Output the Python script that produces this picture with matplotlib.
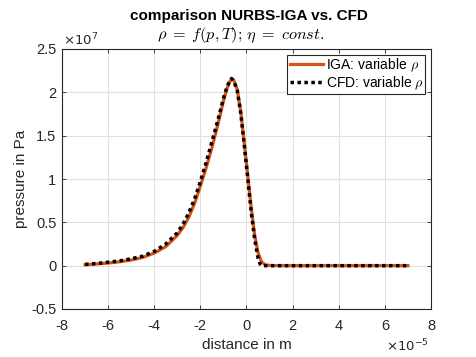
import matplotlib
matplotlib.use("Agg")
import matplotlib.pyplot as plt
import numpy as np

plt.rcParams['font.family'] = ['Liberation Sans', 'DejaVu Sans']
plt.rcParams['mathtext.fontset'] = 'cm'

# data (x in 1e-5 m, y in 1e7 Pa)
iga_x = [-7, -6.5, -6, -5.5, -5, -4.5, -4, -3.5, -3, -2.75, -2.5, -2.25, -2, -1.75, -1.5,
         -1.25, -1, -0.85, -0.75, -0.65, -0.55, -0.4, -0.25, -0.1, 0.05, 0.2, 0.35, 0.5,
         0.65, 0.8, 1.0, 1.5, 3, 5, 7]
iga_y = [0.01, 0.02, 0.03, 0.045, 0.065, 0.095, 0.145, 0.22, 0.35, 0.44, 0.56, 0.72, 0.92,
         1.13, 1.36, 1.62, 1.9, 2.04, 2.11, 2.155, 2.14, 2.03, 1.78, 1.42, 1.05, 0.68, 0.36,
         0.15, 0.045, 0.012, 0.002, 0, 0, 0, 0]
cfd_x = [-7, -6.5, -6, -5.5, -5, -4.5, -4, -3.5, -3, -2.75, -2.5, -2.25, -2, -1.75, -1.5,
         -1.25, -1, -0.85, -0.75, -0.65, -0.55, -0.4, -0.25, -0.1, 0.05, 0.2, 0.35, 0.5,
         0.6, 0.65, 0.8, 1.0, 3, 5, 7]
cfd_y = [0.015, 0.025, 0.04, 0.055, 0.08, 0.11, 0.165, 0.25, 0.38, 0.48, 0.61, 0.77, 0.97,
         1.19, 1.43, 1.67, 1.93, 2.06, 2.12, 2.16, 2.13, 2.02, 1.76, 1.40, 1.02, 0.63, 0.31,
         0.09, 0.015, 0, 0, 0, 0, 0, 0]

x_ticks = [-8, -6, -4, -2, 0, 2, 4, 6, 8]
y_ticks = [-0.5, 0, 0.5, 1, 1.5, 2, 2.5]
x_scale = 1e-5
y_scale = 1e7

fig = plt.figure(figsize=(4.76, 3.57), dpi=100)
ax = fig.add_axes([62/476, 1-309/357, (431-62)/476, (309-49)/357])

ax.plot(np.array(iga_x)*x_scale, np.array(iga_y)*y_scale, color='#D95319', lw=2.3,
        label=r'IGA: variable $\rho$')
ax.plot(np.array(cfd_x)*x_scale, np.array(cfd_y)*y_scale, color='black', lw=2.5,
        linestyle=(0, (1, 1)), label=r'CFD: variable $\rho$')

ax.set_xlim(-8*x_scale, 8*x_scale)
ax.set_ylim(-0.5*y_scale, 2.5*y_scale)
ax.set_xticks([t*x_scale for t in x_ticks])
ax.set_xticklabels([f"{t:g}" for t in x_ticks])
ax.set_yticks([t*y_scale for t in y_ticks])
ax.set_yticklabels([f"{t:g}" for t in y_ticks])
ax.tick_params(direction='in', length=3, width=0.6, top=True, right=True,
               labelsize=10.5, colors='#262626', pad=4)
ax.tick_params(axis='x', pad=7)
ax.grid(True, color='#e0e0e0', lw=0.8)
ax.set_axisbelow(True)
for s in ax.spines.values():
    s.set_color('#262626')
    s.set_linewidth(0.8)

ax.set_xlabel('distance in m', fontsize=11, color='#262626', labelpad=4)
ax.set_ylabel('pressure in Pa', fontsize=11, color='#262626', labelpad=2)

fig.text(249/476, 1-16/357, 'comparison NURBS-IGA vs. CFD', ha='center', va='center',
         fontsize=11, fontweight='bold', color='black')
fig.text(241/476, 1-35/357, r'$\rho\;=\;f(p,T);\,\eta\;=\;const.$', ha='center', va='center',
         fontsize=11.7, color='black')

fig.text(63/476, 1-40/357, r'$\times10^{7}$', ha='left', va='center', fontsize=9.5,
         color='#262626', math_fontfamily='dejavusans')
fig.text(429/476, 1-346/357, r'$\times10^{-5}$', ha='right', va='center', fontsize=9.5,
         color='#262626', math_fontfamily='dejavusans')

leg = ax.legend(loc='upper right', fontsize=10, frameon=True, fancybox=False,
                borderpad=0.15, handlelength=2.4, handletextpad=0.2, labelspacing=0.05,
                borderaxespad=0.4)
leg.get_frame().set_edgecolor('#262626')
leg.get_frame().set_linewidth(0.8)
leg.get_frame().set_alpha(1)

fig.savefig('out.png', dpi=100)
